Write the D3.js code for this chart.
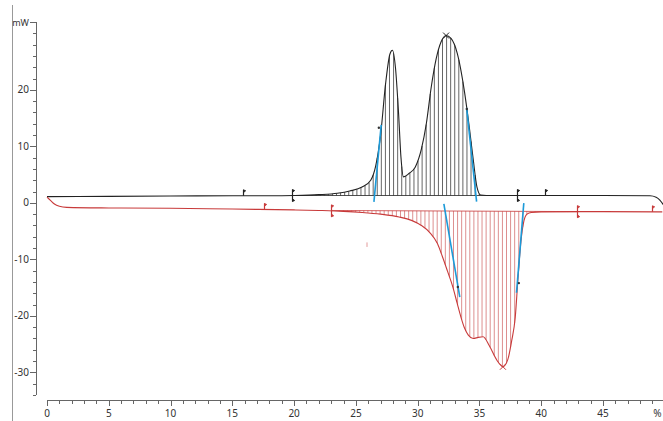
<!DOCTYPE html>
<html>
<head>
<meta charset="utf-8">
<script src="https://cdn.jsdelivr.net/npm/d3@7"></script>
<style>
  body { margin: 0; background: #fff; }
  svg { display: block; }
  text { font-family: "Noto Sans", "DejaVu Sans", sans-serif; font-size: 10px; fill: #333; }
</style>
</head>
<body>
<div id="vis"></div>
<script>
const width = 663, height = 421;

// heating curve (top, black) : x in %, y in mW
const blackX = [0, 5, 10, 15, 18, 20, 22, 23.5, 24.5, 25.5, 26.2, 26.6, 27.0, 27.4, 27.75, 27.95, 28.2, 28.45, 28.65, 28.85,
  29.3, 29.8, 30.3, 30.7, 31.1, 31.5, 31.9, 32.3, 32.7, 33.2, 33.8, 34.2, 34.5, 34.8, 35.1, 36, 40, 45, 48.8, 49.3, 49.6, 49.9];
const blackY = [1.1, 1.15, 1.2, 1.25, 1.25, 1.3, 1.45, 1.7, 2.1, 2.8, 4.0, 6.5, 12, 21, 26.3, 27.0, 24, 16, 8, 4.6,
  5.2, 6.3, 9.5, 14, 20.5, 25.5, 28.5, 29.6, 29.1, 26.5, 19.5, 13, 7.6, 2.8, 1.4, 1.3, 1.3, 1.3, 1.25, 1.0, 0.5, -0.4];

// cooling curve (bottom, red)
const redX = [0, 0.3, 0.6, 1.0, 1.6, 5, 10, 15, 20, 22, 24, 25.5, 27, 28.5, 29.5, 30.3, 31, 31.6, 32, 32.4, 32.85, 33.2,
  33.5, 33.8, 34.1, 34.5, 34.9, 35.3, 35.8, 36.4, 36.9, 37.3, 37.6, 37.9, 38.1, 38.35, 38.6, 38.85, 39.2, 40, 45, 49.8];
const redY = [1.0, 0.4, -0.2, -0.6, -0.8, -0.9, -0.95, -1.1, -1.25, -1.35, -1.5, -1.7, -2.0, -2.5, -3.1, -4.0, -5.3, -7.2, -9.5, -12, -14.9, -17.8,
  -20.2, -22.2, -23.4, -24, -23.8, -23.7, -25.3, -27.8, -29, -27.7, -24.5, -20.2, -14, -7, -3.2, -2.0, -1.7, -1.6, -1.55, -1.6];

// integration limits and baselines [x, y]
const blackBase = [[19.8, 1.3], [38.0, 1.3]];
const redBase = [[23.0, -1.35], [42.9, -1.55]];

// limit markers: x, type
const blackMarks = [[15.9, "up"], [19.8, "both"], [38.0, "both"], [40.3, "up"]];
const redMarks = [[17.6, "up"], [23.0, "both"], [42.9, "both"], [49.0, "up"]];

// onset / endset tangents [[x1,y1],[x2,y2],[dotx,doty]]
const tangents = [
  [[26.46, 0.18], [27.05, 13.8], [26.86, 13.3]],
  [[33.96, 16.8], [34.77, 0.23], [33.98, 16.6]],
  [[32.12, -0.18], [33.41, -16.7], [33.25, -14.9]],
  [[38.59, -0.05], [38.0, -15.9], [38.19, -14.2]]
];
const peaks = [[32.3, 29.6, "#222"], [36.9, -29, "#c83a3a"]];

const xTicks = [0, 5, 10, 15, 20, 25, 30, 35, 40, 45];
const yTicks = [-30, -20, -10, 0, 10, 20];

const svg = d3.select("#vis").append("svg")
  .attr("width", width).attr("height", height);

const x = d3.scaleLinear().domain([0, 45]).range([47, 603]);
const y = d3.scaleLinear().domain([-34, 32]).range([395, 22]);

// left frame line
svg.append("line").attr("x1", 12.5).attr("x2", 12.5).attr("y1", 5).attr("y2", height)
  .attr("stroke", "#999");

// y axis
const yAxis = svg.append("g");
yAxis.append("line").attr("x1", 36.5).attr("x2", 36.5).attr("y1", y(32)).attr("y2", y(-34)).attr("stroke", "#666");
d3.range(-34, 33, 2).forEach(v => {
  const major = yTicks.includes(v) || v === 32;
  yAxis.append("line")
    .attr("x1", major ? 30 : 33).attr("x2", 36)
    .attr("y1", Math.round(y(v)) + 0.5).attr("y2", Math.round(y(v)) + 0.5)
    .attr("stroke", "#666");
});
yAxis.selectAll("text.yl").data(yTicks).join("text")
  .attr("x", 29).attr("y", d => y(d) + 3.5)
  .attr("text-anchor", "end").text(d => d);
yAxis.append("text").attr("x", 29).attr("y", y(32) + 4).attr("text-anchor", "end")
  .style("font-size", "9px").text("mW");

// x axis
const xAxis = svg.append("g");
xAxis.append("line").attr("x1", 47).attr("x2", width).attr("y1", 400.5).attr("y2", 400.5).attr("stroke", "#666");
d3.range(0, 50, 1).forEach(v => {
  const major = v % 5 === 0;
  xAxis.append("line")
    .attr("x1", Math.round(x(v)) + 0.5).attr("x2", Math.round(x(v)) + 0.5)
    .attr("y1", 400).attr("y2", major ? 406 : 404)
    .attr("stroke", "#666");
});
xAxis.selectAll("text.xl").data(xTicks).join("text")
  .attr("x", d => x(d)).attr("y", 417)
  .attr("text-anchor", "middle").text(d => d);
xAxis.append("text").attr("x", x(49.4)).attr("y", 417).attr("text-anchor", "middle").text("%");

const line = d3.line().x(d => x(d[0])).y(d => y(d[1])).curve(d3.curveMonotoneX);

// find curve y at a given pixel x by walking the drawn path
function curveYAt(node, px) {
  const total = node.getTotalLength();
  let lo = 0, hi = total;
  for (let i = 0; i < 30; i++) {
    const mid = (lo + hi) / 2;
    if (node.getPointAtLength(mid).x < px) lo = mid; else hi = mid;
  }
  return node.getPointAtLength((lo + hi) / 2).y;
}

function drawCurve(xs, ys, base, color, hatchColor, below) {
  const g = svg.append("g");
  const hatch = g.append("g");
  const path = g.append("path")
    .attr("d", line(d3.zip(xs, ys)))
    .attr("fill", "none").attr("stroke", color).attr("stroke-width", 1.1);
  const bx = d3.scaleLinear().domain([base[0][0], base[1][0]]).range([base[0][1], base[1][1]]);
  for (let t = base[0][0]; t <= base[1][0]; t += 0.33) {
    const px = x(t);
    const cy = curveYAt(path.node(), px);
    const by = y(bx(t));
    if (below ? cy > by + 0.5 : cy < by - 0.5) {
      hatch.append("line")
        .attr("x1", px).attr("x2", px).attr("y1", by).attr("y2", cy)
        .attr("stroke", hatchColor).attr("stroke-width", 0.9);
    }
  }
  // baseline segment
  g.append("line")
    .attr("x1", x(base[0][0])).attr("x2", x(base[1][0]))
    .attr("y1", y(base[0][1])).attr("y2", y(base[1][1]))
    .attr("stroke", color).attr("stroke-width", 0.8);
  return path;
}

const blackPath = drawCurve(blackX, blackY, blackBase, "#222", "#555", false);
const redPath = drawCurve(redX, redY, redBase, "#c83a3a", "#d98282", true);

function drawMarks(marks, path, color) {
  marks.forEach(([t, type]) => {
    const px = Math.round(x(t)) + 0.5;
    const cy = curveYAt(path.node(), px);
    const g = svg.append("g").attr("stroke", color).attr("fill", color);
    const top = cy - 6, bot = type === "both" ? cy + 6 : cy;
    g.append("line").attr("x1", px).attr("x2", px).attr("y1", top).attr("y2", bot).attr("stroke-width", 1.2);
    g.append("path").attr("d", `M${px},${top}l2.2,1l-2.2,1.8z`).attr("stroke-width", 0.8);
    if (type === "both") g.append("path").attr("d", `M${px},${bot}l2.2,-1l-2.2,-1.8z`).attr("stroke-width", 0.8);
  });
}
drawMarks(blackMarks, blackPath, "#222");
drawMarks(redMarks, redPath, "#c83a3a");

// tiny note mark under the red baseline
svg.append("line").attr("x1", x(25.9)).attr("x2", x(25.9)).attr("y1", y(-7)).attr("y2", y(-7.8))
  .attr("stroke", "#e29a9a").attr("stroke-width", 1);

// tangents
tangents.forEach(([a, b, d]) => {
  svg.append("line")
    .attr("x1", x(a[0])).attr("y1", y(a[1])).attr("x2", x(b[0])).attr("y2", y(b[1]))
    .attr("stroke", "#1c9ad8").attr("stroke-width", 1.6);
  svg.append("circle").attr("cx", x(d[0])).attr("cy", y(d[1])).attr("r", 1.2).attr("fill", "#333");
});

// peak crosses
peaks.forEach(([t, v, c]) => {
  const px = x(t), py = y(v);
  svg.append("path").attr("d", `M${px - 3},${py - 3}L${px + 3},${py + 3}M${px - 3},${py + 3}L${px + 3},${py - 3}`)
    .attr("stroke", c).attr("stroke-width", 1);
});
</script>
</body>
</html>
